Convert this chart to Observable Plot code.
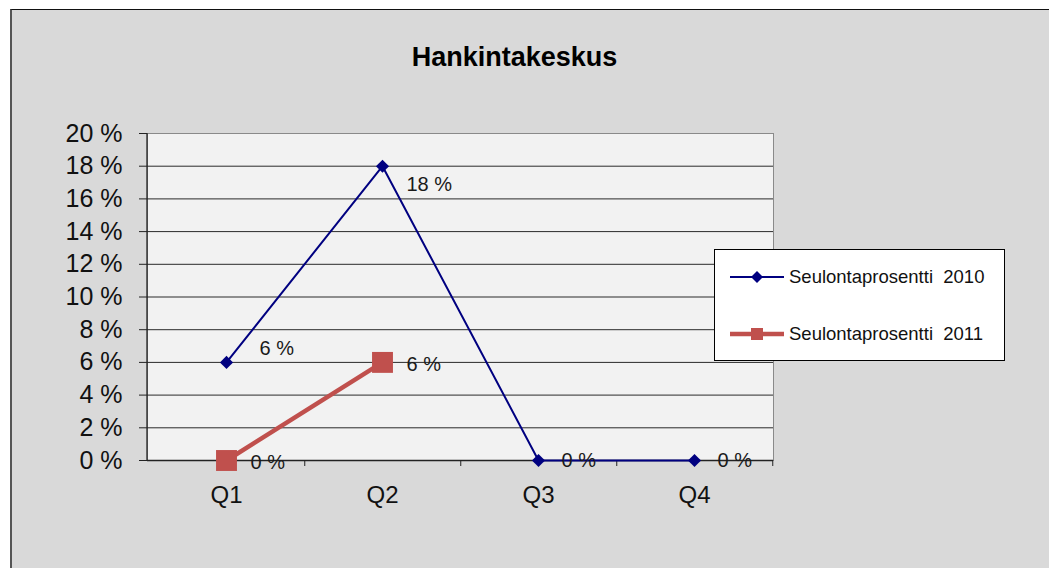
<!DOCTYPE html>
<html>
<head>
<meta charset="utf-8">
<script src="https://cdn.jsdelivr.net/npm/d3@7"></script>
<script src="https://cdn.jsdelivr.net/npm/@observablehq/plot@0.6"></script>
<style>
  html, body { margin: 0; padding: 0; background: #ffffff; }
  body { width: 1049px; height: 568px; position: relative; overflow: hidden; font-family: "Liberation Sans", Arial, sans-serif; }
  #box { position: absolute; left: 10px; top: 9px; width: 1045px; height: 565px; background: #d9d9d9; border-top: 1px solid #111; border-left: 2px solid #555; }
  #title { position: absolute; left: 0; width: 1029px; top: 42px; text-align: center; font-weight: bold; font-size: 27px; color: #000; }
  #chart { position: absolute; left: 0; top: 0; }
  #legend { position: absolute; left: 714px; top: 249px; width: 289px; height: 110px; background: #fff; border: 1px solid #000; }
  .item { position: absolute; left: 15px; height: 20px; display: flex; align-items: center; font-size: 18.5px; white-space: pre; color: #111; }
  .item svg { margin-right: 5px; }
</style>
</head>
<body>
<div id="box"></div>
<div id="title">Hankintakeskus</div>
<div id="chart"></div>
<div id="legend"></div>
<script>
// Data
const quarters = ["Q1", "Q2", "Q3", "Q4"];
const rate2010 = [6, 18, 0, 0];
const rate2011 = [0, 6];
const yTicks = [0, 2, 4, 6, 8, 10, 12, 14, 16, 18, 20];
const seriesNames = ["Seulontaprosentti  2010", "Seulontaprosentti  2011"];

const blue = "#000080";
const red = "#c0504d";

const d2010 = rate2010.map((v, i) => ({q: quarters[i], v, i}));
const d2011 = rate2011.map((v, i) => ({q: quarters[i], v, i}));
const pct = v => `${v} %`;

const leftAxisLine = (index, scales, values, dims) => {
  const g = d3.create("svg:line")
    .attr("x1", dims.marginLeft).attr("x2", dims.marginLeft)
    .attr("y1", dims.marginTop).attr("y2", dims.height - dims.marginBottom)
    .attr("stroke", "#222").attr("stroke-width", 1.3);
  return g.node();
};

const chart = Plot.plot({
  width: 1049,
  height: 568,
  marginLeft: 147,
  marginRight: 276,
  marginTop: 133,
  marginBottom: 108,
  style: {background: "none", fontFamily: "Liberation Sans, Arial, sans-serif", color: "#111"},
  x: {type: "point", domain: quarters, padding: 0.5, label: null},
  y: {domain: [0, 20], label: null},
  marks: [
    Plot.frame({fill: "#f2f2f2", stroke: "#8a8a8a"}),
    Plot.ruleY(yTicks.filter(v => v > 0 && v < 20), {stroke: "#2a2a2a", strokeWidth: 1}),
    Plot.ruleY([0], {stroke: "#222", strokeWidth: 1.3}),
    leftAxisLine,
    Plot.ruleX(quarters, {x: d => d, y1: 0, y2: 0, insetBottom: -6, dx: 78.25, stroke: "#222"}),
    Plot.axisY({ticks: yTicks, tickFormat: pct, tickSize: 8, tickPadding: 17, fontSize: 25, stroke: "#222", label: null}),
    Plot.axisX({tickSize: 0, tickPadding: 25, fontSize: 24, label: null}),
    Plot.line(d2010, {x: "q", y: "v", stroke: blue, strokeWidth: 2}),
    Plot.dot(d2010, {x: "q", y: "v", symbol: "diamond2", r: 5.9, fill: blue, stroke: "none"}),
    Plot.line(d2011, {x: "q", y: "v", stroke: red, strokeWidth: 4.5}),
    Plot.dot(d2011, {x: "q", y: "v", symbol: "square", r: 11.8, fill: red, stroke: "none"}),
    Plot.text(d2010.filter(d => d.i === 0), {x: "q", y: "v", text: d => pct(d.v), textAnchor: "start", dx: 33, dy: -14, fontSize: 20, fill: "#1a1a1a"}),
    Plot.text(d2010.filter(d => d.i === 1), {x: "q", y: "v", text: d => pct(d.v), textAnchor: "start", dx: 24, dy: 18, fontSize: 20, fill: "#1a1a1a"}),
    Plot.text(d2010.filter(d => d.i >= 2), {x: "q", y: "v", text: d => pct(d.v), textAnchor: "start", dx: 23, dy: 0, fontSize: 20, fill: "#1a1a1a"}),
    Plot.text(d2011, {x: "q", y: "v", text: d => pct(d.v), textAnchor: "start", dx: 24, dy: 2, fontSize: 20, fill: "#1a1a1a"})
  ]
});
document.getElementById("chart").appendChild(chart);

// Legend
const legend = document.getElementById("legend");
const swatches = [
  `<svg width="54" height="20"><line x1="0" x2="54" y1="10" y2="10" stroke="${blue}" stroke-width="2"/><path d="M27,4L33,10L27,16L21,10Z" fill="${blue}"/></svg>`,
  `<svg width="54" height="20"><line x1="0" x2="54" y1="10" y2="10" stroke="${red}" stroke-width="4.5"/><rect x="21" y="4" width="12" height="12" fill="${red}"/></svg>`
];
const tops = [17, 74];
seriesNames.forEach((name, i) => {
  const div = document.createElement("div");
  div.className = "item";
  div.style.top = tops[i] + "px";
  div.innerHTML = swatches[i] + `<span>${name}</span>`;
  legend.appendChild(div);
});
</script>
</body>
</html>
